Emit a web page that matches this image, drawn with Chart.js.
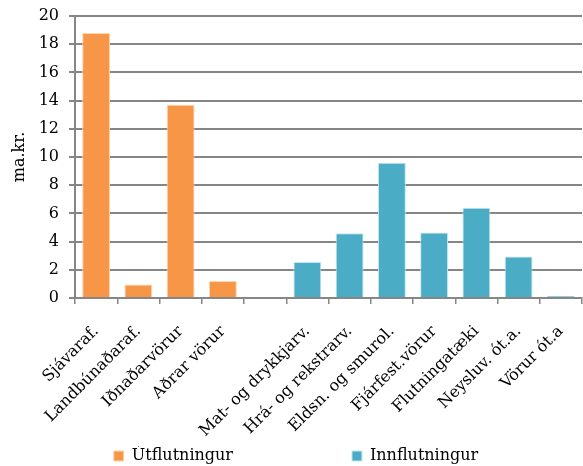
<!DOCTYPE html>
<html><head><meta charset="utf-8">
<script src="https://cdn.jsdelivr.net/npm/chart.js@4"></script>
<style>html,body{margin:0;padding:0;background:#fff}#w{width:583px;height:466px}</style>
</head><body><div id="w"><canvas id="c"></canvas></div>
<script>
const categories = ["Sjávaraf.","Landbúnaðaraf.","Iðnaðarvörur","Aðrar vörur","","Mat- og drykkjarv.","Hrá- og rekstrarv.","Eldsn. og smurol.","Fjárfest.vörur","Flutningatæki","Neysluv. ót.a.","Vörur ót.a"];
const exportsValues = [18.8,0.95,13.7,1.2,null,null,null,null,null,null,null,null];
const importsValues = [null,null,null,null,null,2.55,4.6,9.6,4.65,6.4,2.95,0.15];
const seriesNames = ["Útflutningur","Innflutningur"];
const yTicks = [0,2,4,6,8,10,12,14,16,18,20];

const FONT = "'DejaVu Serif', serif";
Chart.defaults.font.family = FONT;
Chart.defaults.color = "#000";

new Chart(document.getElementById('c'), {
  type: 'bar',
  data: {
    labels: categories,
    datasets: [
      {label: seriesNames[0], data: exportsValues, backgroundColor: '#F79646', borderColor: '#FCD5B5', borderWidth: 1, grouped: false, barPercentage: 0.66, categoryPercentage: 1},
      {label: seriesNames[1], data: importsValues, backgroundColor: '#4BACC6', borderColor: '#C5E6EF', borderWidth: 1, grouped: false, barPercentage: 0.66, categoryPercentage: 1}
    ]
  },
  options: {
    responsive: true, maintainAspectRatio: false, animation: false,
    layout: {padding: {top: 16, right: 1, left: 10, bottom: -8}},
    plugins: {
      tooltip: {enabled: false},
      legend: {
        position: 'bottom',
        labels: {
          font: {size: 16, family: FONT}, color: '#000', boxWidth: 10, boxHeight: 10, padding: 2,
          generateLabels(chart) {
            const items = Chart.defaults.plugins.legend.labels.generateLabels(chart);
            items[0].text = items[0].text + '                       ';
            return items;
          }
        }
      }
    },
    scales: {
      x: {
        grid: {display: true, drawOnChartArea: false, color: '#868686', lineWidth: 1.5, tickLength: 6, offset: true},
        border: {color: '#868686', width: 2},
        ticks: {maxRotation: 45, minRotation: 45, font: {size: 16, family: FONT}, color: '#000', padding: 18},
        afterFit(s) { s.height = 148; s.paddingLeft = 0; s.paddingRight = 0; }
      },
      y: {
        min: 0, max: 20,
        afterBuildTicks(s) { s.ticks = yTicks.map(v => ({value: v})); },
        grid: {color: '#868686', lineWidth: 2, tickLength: 6},
        border: {color: '#868686', width: 2},
        ticks: {font: {size: 16, family: FONT}, color: '#000', padding: 10},
        title: {display: true, text: 'ma.kr.', font: {size: 16, family: FONT}, color: '#000', padding: 0},
        afterFit(s) { s.width = 65; s.paddingTop = 0; s.paddingBottom = 0; }
      }
    }
  }
});
</script></body></html>
